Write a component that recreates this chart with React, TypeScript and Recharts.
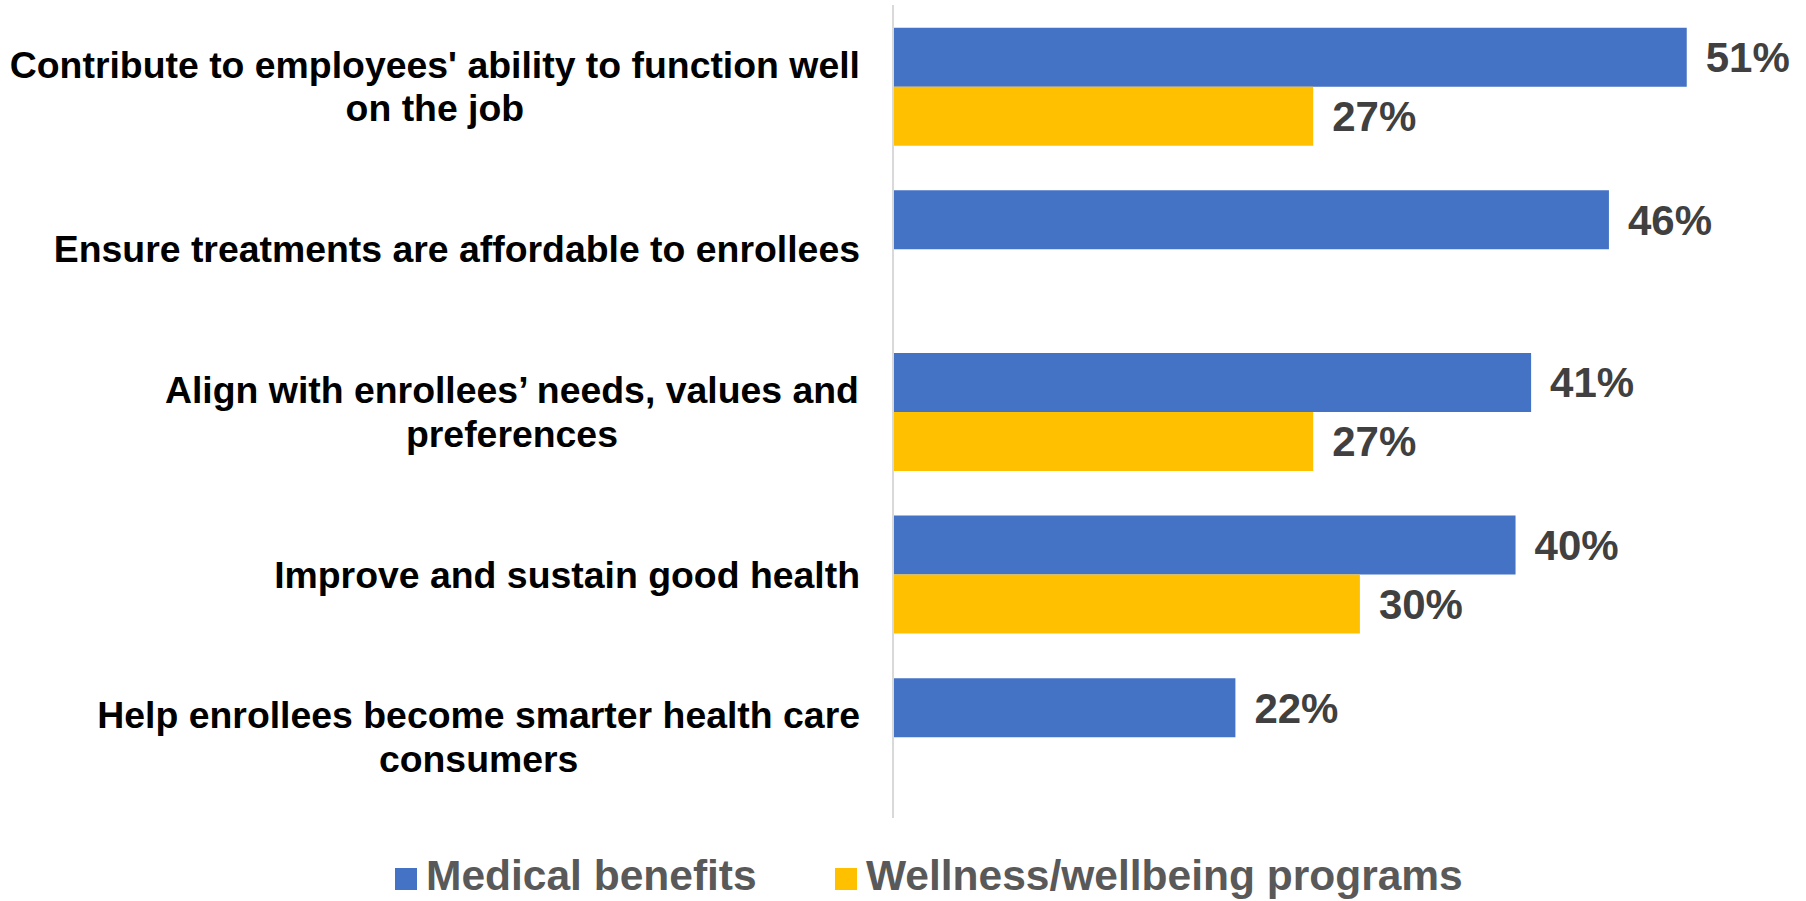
import React from 'react';
import { BarChart, Bar, XAxis, YAxis, LabelList, Legend } from 'recharts';

const categories: string[] = [
  "Contribute to employees' ability to function well\non the job",
  'Ensure treatments are affordable to enrollees',
  'Align with enrollees\u2019 needs, values and\npreferences',
  'Improve and sustain good health',
  'Help enrollees become smarter health care\nconsumers',
];
const medicalValues: (number | null)[] = [51, 46, 41, 40, 22];
const wellnessValues: (number | null)[] = [27, null, 27, 30, null];
const seriesNames = ['Medical benefits', 'Wellness/wellbeing programs'];
const seriesColors = ['#4472C4', '#FFC000'];

const data = categories.map((c, i) => ({
  category: c,
  medical: medicalValues[i],
  wellness: wellnessValues[i],
}));

const FONT = "'Liberation Sans', Arial, Helvetica, sans-serif";
const TICK_FONT_SIZE = 37.4;
const LINE_HEIGHT = 43.5;

let ctx: CanvasRenderingContext2D | null = null;
function measure(text: string, font: string): number {
  if (!ctx) {
    const c = document.createElement('canvas');
    ctx = c.getContext('2d');
  }
  if (!ctx) return text.length * 20;
  ctx.font = font;
  return ctx.measureText(text).width;
}

const CategoryTick = (props: any) => {
  const { x, y, payload } = props;
  const lines: string[] = String(payload.value).split('\n');
  const font = `bold ${TICK_FONT_SIZE}px ${FONT}`;
  const maxW = Math.max(...lines.map((l) => measure(l, font)));
  const cx = x - maxW / 2;
  const n = lines.length;
  return (
    <g>
      {lines.map((l, i) => (
        <text
          key={i}
          x={cx}
          y={y + (i - (n - 1) / 2) * LINE_HEIGHT + 13.4}
          textAnchor="middle"
          fontFamily={FONT}
          fontWeight="bold"
          fontSize={TICK_FONT_SIZE}
          fill="#000000"
        >
          {l}
        </text>
      ))}
    </g>
  );
};

const ValueLabel = (props: any) => {
  const { x, y, width, height, value } = props;
  if (value === null || value === undefined) return null;
  return (
    <text
      x={x + width + 19}
      y={y + height / 2 + 15}
      textAnchor="start"
      fontFamily={FONT}
      fontWeight="bold"
      fontSize={42}
      fill="#404040"
    >
      {`${value}%`}
    </text>
  );
};

const LegendContent = () => {
  const positions = [395, 835];
  return (
    <svg width={1806} height={46} style={{ display: 'block', overflow: 'visible' }}>
      {seriesNames.map((name, i) => (
        <g key={name}>
          <rect x={positions[i]} y={13} width={22} height={22} fill={seriesColors[i]} />
          <text
            x={positions[i] + 31}
            y={35}
            fontFamily={FONT}
            fontWeight="bold"
            fontSize={42.5}
            fill="#595959"
          >
            {name}
          </text>
        </g>
      ))}
    </svg>
  );
};

export default function App() {
  return (
    <div style={{ position: 'absolute', left: 0, top: 0, width: 1806, height: 901, background: '#ffffff' }}>
      <BarChart
        width={1806}
        height={901}
        data={data}
        layout="vertical"
        margin={{ top: 5, right: 57, bottom: 83, left: 0 }}
        barCategoryGap="14%"
        barGap={0}
      >
        <XAxis type="number" domain={[0, 55]} hide />
        <YAxis
          type="category"
          dataKey="category"
          width={893}
          tickLine={false}
          tickSize={0}
          tickMargin={33}
          axisLine={{ stroke: '#d9d9d9', strokeWidth: 2 }}
          tick={<CategoryTick />}
          interval={0}
        />
        <Legend
          layout="horizontal"
          verticalAlign="middle"
          align="center"
          content={<LegendContent />}
          wrapperStyle={{ top: 855, left: 0, width: 1806, height: 46 }}
        />
        <Bar dataKey="medical" name={seriesNames[0]} fill={seriesColors[0]} isAnimationActive={false}>
          <LabelList dataKey="medical" content={<ValueLabel />} />
        </Bar>
        <Bar dataKey="wellness" name={seriesNames[1]} fill={seriesColors[1]} isAnimationActive={false}>
          <LabelList dataKey="wellness" content={<ValueLabel />} />
        </Bar>
      </BarChart>
    </div>
  );
}
